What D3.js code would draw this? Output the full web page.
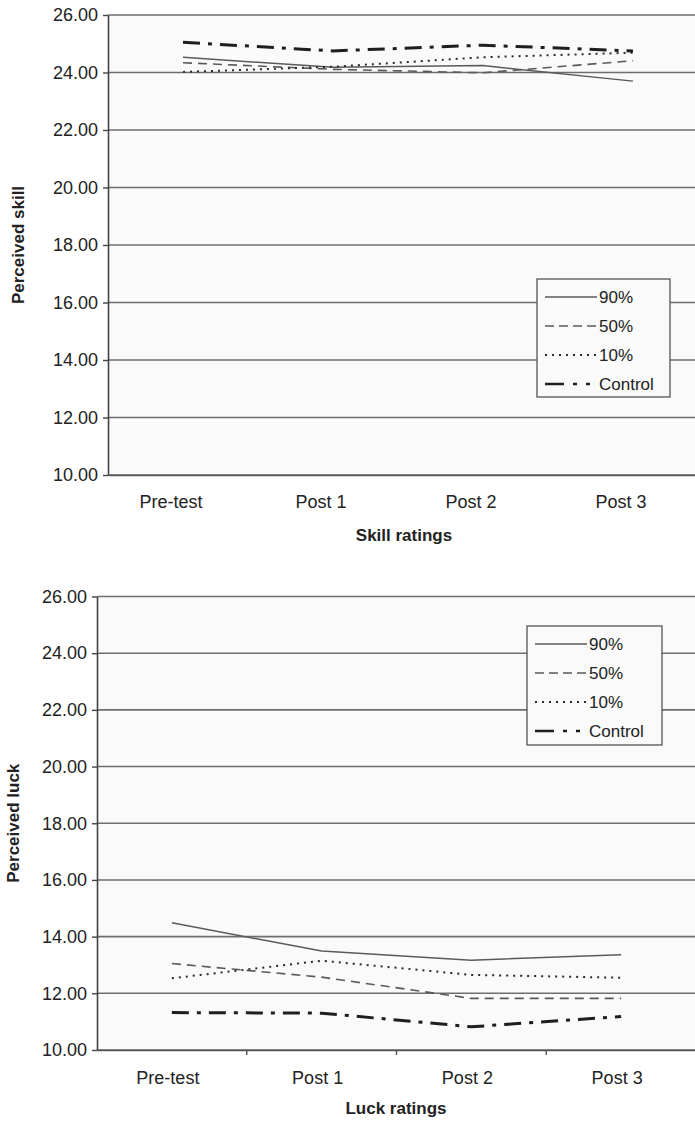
<!DOCTYPE html>
<html>
<head>
<meta charset="utf-8">
<script src="https://cdn.jsdelivr.net/npm/d3@7"></script>
<style>
  html, body { margin: 0; padding: 0; background: #ffffff; }
  svg { display: block; }
  text { font-family: "Liberation Sans", Arial, Helvetica, sans-serif; fill: #222; }
</style>
</head>
<body>
<svg id="chart" width="695" height="1121"></svg>
<script>
// ---------- data ----------
const categories = ["Pre-test", "Post 1", "Post 2", "Post 3"];
const seriesNames = ["90%", "50%", "10%", "Control"];
const yTicks = [10, 12, 14, 16, 18, 20, 22, 24, 26];

const skill90      = [24.53, 24.18, 24.24, 23.70];
const skill50      = [24.34, 24.11, 23.99, 24.41];
const skill10      = [24.02, 24.20, 24.53, 24.69];
const skillControl = [25.05, 24.75, 24.95, 24.75];

const luck90      = [14.49, 13.49, 13.17, 13.36];
const luck50      = [13.05, 12.57, 11.82, 11.82];
const luck10      = [12.53, 13.15, 12.65, 12.55];
const luckControl = [11.32, 11.30, 10.82, 11.18];

// ---------- styles ----------
const styles = {
  "90%":     { stroke: "#5a5a5a", width: 1.5, dash: null,         legendDash: null },
  "50%":     { stroke: "#5a5a5a", width: 1.6, dash: "9,6",        legendDash: "9,5" },
  "10%":     { stroke: "#2a2a2a", width: 2.0, dash: "2,5",        legendDash: "2,5" },
  "Control": { stroke: "#1e1e1e", width: 3.0, dash: "17,8,4,8",   legendDash: "19,9,4,9,4,40" }
};

const svg = d3.select("#chart");

function drawChart(cfg) {
  const g = svg.append("g");
  const x = d3.scaleBand().domain(categories).range([cfg.left, cfg.right]);
  const y = d3.scaleLinear().domain([10, 26]).range([cfg.bottom, cfg.top]);

  // plot background
  g.append("rect")
    .attr("x", cfg.left).attr("y", cfg.top)
    .attr("width", 695 - cfg.left).attr("height", cfg.bottom - cfg.top)
    .attr("fill", "#fafafa");

  // gridlines
  g.selectAll(".grid").data(yTicks).enter().append("line")
    .attr("x1", cfg.left).attr("x2", 695)
    .attr("y1", d => y(d)).attr("y2", d => y(d))
    .attr("stroke", "#6e6e6e").attr("stroke-width", 1.6);

  // y axis
  const yAxis = d3.axisLeft(y).tickValues(yTicks).tickFormat(d3.format(".2f"))
    .tickSizeInner(5).tickSizeOuter(0).tickPadding(5);
  const ya = g.append("g").attr("transform", `translate(${cfg.left},0)`).call(yAxis);
  ya.select(".domain").attr("stroke", "#444").attr("stroke-width", 1.6);
  ya.selectAll(".tick line").attr("stroke", "#444").attr("stroke-width", 1.4);
  ya.selectAll(".tick text").style("font-size", "18px").attr("fill", "#222");

  // x axis
  const xAxis = d3.axisBottom(x).tickSizeInner(0).tickSizeOuter(0).tickPadding(cfg.xPad);
  const xa = g.append("g").attr("transform", `translate(0,${cfg.bottom})`).call(xAxis);
  xa.select(".domain").attr("stroke", "#555").attr("stroke-width", 1.6);
  xa.selectAll(".tick text").style("font-size", "18px").attr("fill", "#222")
    .attr("dx", cfg.labelShift);
  if (cfg.catTicks) {
    g.selectAll(".ctick").data(categories.slice(1)).enter().append("line")
      .attr("x1", d => x(d)).attr("x2", d => x(d))
      .attr("y1", cfg.bottom).attr("y2", cfg.bottom + 5)
      .attr("stroke", "#555").attr("stroke-width", 1.4);
  }

  // lines
  const line = d3.line().x((d, i) => x(categories[i]) + x.bandwidth() / 2).y(d => y(d));
  seriesNames.forEach((name, k) => {
    const st = styles[name];
    g.append("path").datum(cfg.series[k])
      .attr("d", line)
      .attr("fill", "none")
      .attr("stroke", st.stroke)
      .attr("stroke-width", st.width)
      .attr("stroke-dasharray", st.dash);
  });

  // axis titles
  g.append("text")
    .attr("transform", `translate(${cfg.yTitleX},${(cfg.top + cfg.bottom) / 2}) rotate(-90)`)
    .attr("text-anchor", "middle")
    .style("font-size", "17px").style("font-weight", "bold")
    .text(cfg.yTitle);
  g.append("text")
    .attr("x", cfg.xTitleX).attr("y", cfg.xTitleY)
    .attr("text-anchor", "middle")
    .style("font-size", "17px").style("font-weight", "bold")
    .text(cfg.xTitle);

  // legend
  const L = cfg.legend;
  g.append("rect")
    .attr("x", L.x).attr("y", L.y).attr("width", L.w).attr("height", L.h)
    .attr("fill", "#fafafa").attr("stroke", "#555").attr("stroke-width", 1.3);
  seriesNames.forEach((name, k) => {
    const st = styles[name];
    const ry = L.y + 18 + k * 29;
    g.append("line")
      .attr("x1", L.x + 8).attr("x2", L.x + 60)
      .attr("y1", ry).attr("y2", ry)
      .attr("stroke", st.stroke)
      .attr("stroke-width", name === "Control" ? 2.6 : st.width)
      .attr("stroke-dasharray", st.legendDash);
    g.append("text")
      .attr("x", L.x + 62).attr("y", ry + 6)
      .style("font-size", "17px").attr("fill", "#333")
      .text(name);
  });
}

drawChart({
  left: 108, right: 708, top: 15, bottom: 475,
  series: [skill90, skill50, skill10, skillControl],
  yTitle: "Perceived skill", yTitleX: 24,
  xTitle: "Skill ratings", xTitleX: 404, xTitleY: 541,
  xPad: 20, labelShift: -12, catTicks: false,
  legend: { x: 537, y: 279, w: 133, h: 118 }
});

drawChart({
  left: 97, right: 696, top: 596.5, bottom: 1050,
  series: [luck90, luck50, luck10, luckControl],
  yTitle: "Perceived luck", yTitleX: 19,
  xTitle: "Luck ratings", xTitleX: 396, xTitleY: 1114,
  xPad: 21, labelShift: -4, catTicks: true,
  legend: { x: 527, y: 626, w: 135, h: 119 }
});
</script>
</body>
</html>
